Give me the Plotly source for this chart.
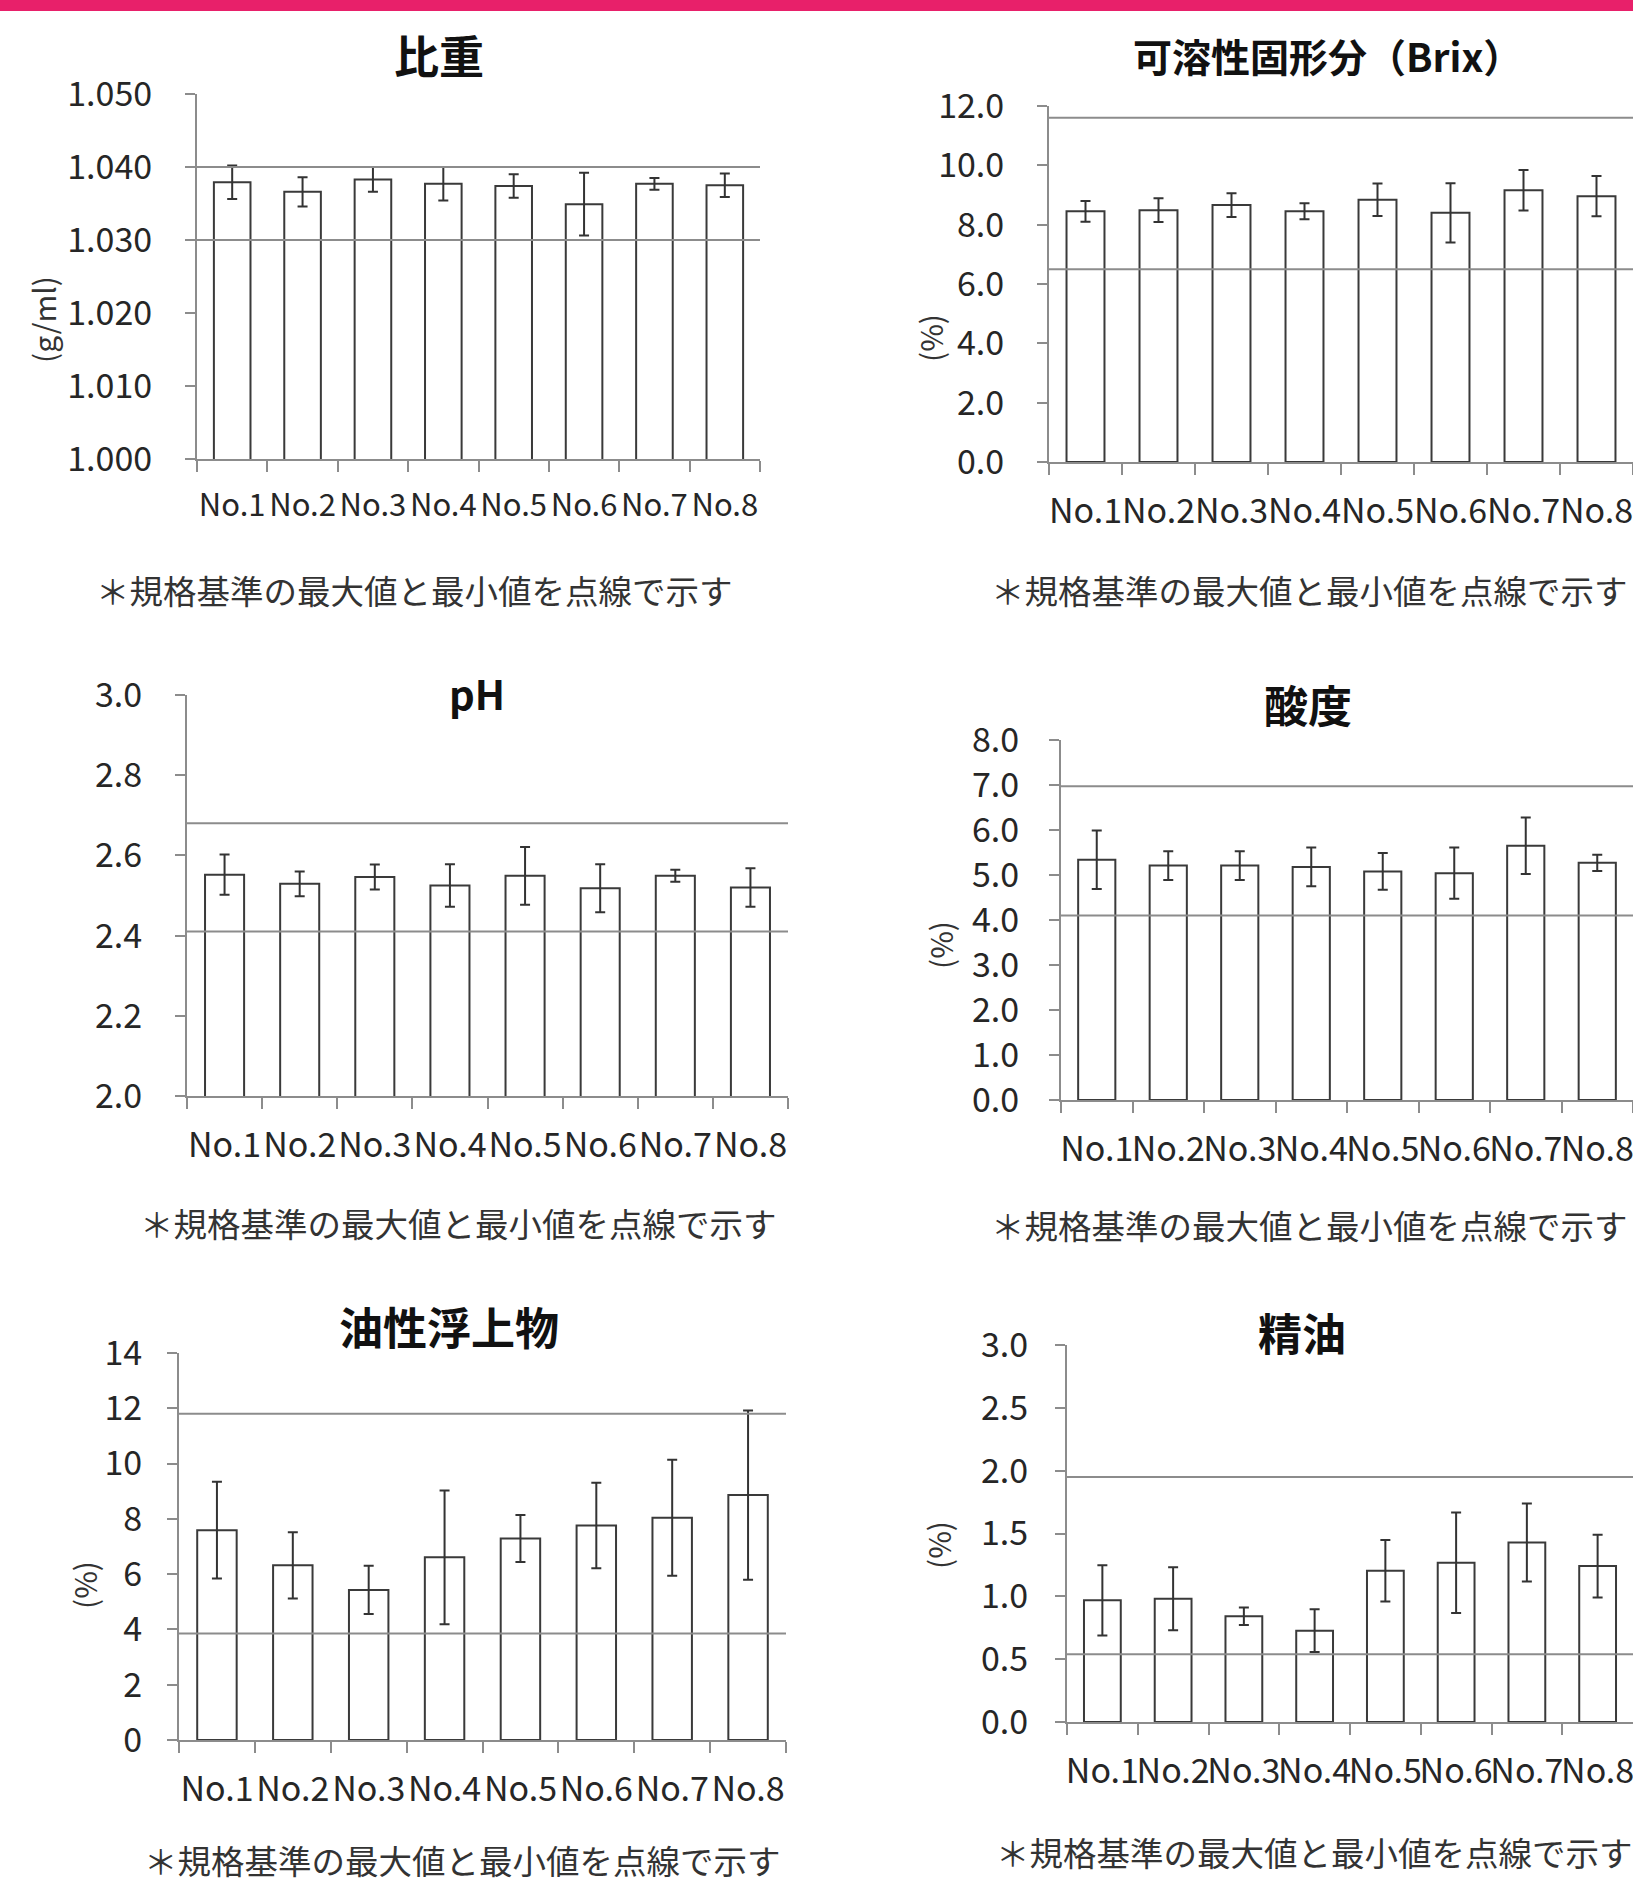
import plotly.graph_objects as go

# Sample labels shared by every panel
categories = ["No.1", "No.2", "No.3", "No.4", "No.5", "No.6", "No.7", "No.8"]

# 比重 (g/ml): mean and standard deviation, spec max/min
sg_mean = [1.0379, 1.0366, 1.0383, 1.0377, 1.0374, 1.0349, 1.0377, 1.0375]
sg_err = [0.0023, 0.0020, 0.0017, 0.0023, 0.0016, 0.0043, 0.0008, 0.0016]
sg_limits = [1.040, 1.030]

# 可溶性固形分 (Brix, %)
brix_mean = [8.45, 8.49, 8.66, 8.45, 8.84, 8.40, 9.16, 8.96]
brix_err = [0.35, 0.40, 0.40, 0.27, 0.55, 1.00, 0.68, 0.68]
brix_limits = [11.6, 6.5]

# pH
ph_mean = [2.552, 2.529, 2.546, 2.525, 2.549, 2.518, 2.549, 2.520]
ph_err = [0.050, 0.031, 0.031, 0.053, 0.072, 0.060, 0.015, 0.048]
ph_limits = [2.68, 2.41]

# 酸度 (%)
acid_mean = [5.34, 5.21, 5.21, 5.18, 5.08, 5.04, 5.65, 5.27]
acid_err = [0.65, 0.32, 0.32, 0.43, 0.41, 0.57, 0.63, 0.18]
acid_limits = [6.97, 4.1]

# 油性浮上物 (%)
oil_mean = [7.59, 6.32, 5.43, 6.61, 7.29, 7.76, 8.04, 8.86]
oil_err = [1.75, 1.20, 0.87, 2.42, 0.85, 1.55, 2.10, 3.06]
oil_limits = [11.8, 3.85]

# 精油 (%)
eo_mean = [0.968, 0.981, 0.841, 0.727, 1.203, 1.267, 1.429, 1.241]
eo_err = [0.28, 0.25, 0.07, 0.17, 0.245, 0.40, 0.31, 0.25]
eo_limits = [1.95, 0.54]

NOTE = "＊規格基準の最大値と最小値を点線で示す"

W, H = 1633, 1886
FONT = "Noto Sans CJK JP"


def px(x):
    return x / W


def py(y):
    return 1 - y / H


# Panel layout in page pixels: plot box (left, right, top, bottom),
# title / y-title / note anchor points, axis settings.
panels = [
    dict(title="比重", tsize=45, mean=sg_mean, err=sg_err, limits=sg_limits,
         yrange=[1.000, 1.050], dtick=0.01, fmt=".3f", ytitle="(g/ml)",
         box=(197, 760, 94, 459), t=(439, 54), yt=(43, 320),
         note=(414, 589), xfont=31, ystand=26),
    dict(title="可溶性固形分（Brix）", tsize=39, mean=brix_mean, err=brix_err,
         limits=brix_limits,
         yrange=[0, 12], dtick=2, fmt=".1f", ytitle="(%)",
         box=(1049, 1633, 106, 462), t=(1327, 55), yt=(930, 338),
         note=(1309, 589), xfont=34, ystand=26),
    dict(title="pH", tsize=40, mean=ph_mean, err=ph_err, limits=ph_limits,
         yrange=[2.0, 3.0], dtick=0.2, fmt=".1f", ytitle=None,
         box=(187, 788, 695, 1096), t=(477, 693), yt=None,
         note=(458, 1222), xfont=34, ystand=26),
    dict(title="酸度", tsize=44, mean=acid_mean, err=acid_err, limits=acid_limits,
         yrange=[0, 8], dtick=1, fmt=".1f", ytitle="(%)",
         box=(1061, 1633, 740, 1100), t=(1308, 704), yt=(940, 945),
         note=(1309, 1224), xfont=34, ystand=23),
    dict(title="油性浮上物", tsize=44, mean=oil_mean, err=oil_err, limits=oil_limits,
         yrange=[0, 14], dtick=2, fmt="d", ytitle="(%)",
         box=(179, 786, 1353, 1740), t=(449, 1326), yt=(84, 1585),
         note=(462, None), xfont=34, ystand=18),
    dict(title="精油", tsize=44, mean=eo_mean, err=eo_err, limits=eo_limits,
         yrange=[0, 3.0], dtick=0.5, fmt=".1f", ytitle="(%)",
         box=(1067, 1633, 1345, 1722), t=(1302, 1332), yt=(938, 1545),
         note=(1314, 1851), xfont=34, ystand=20),
]

fig = go.Figure()
shapes = []
annotations = []
layout_axes = {}

for i, p in enumerate(panels, start=1):
    sfx = "" if i == 1 else str(i)
    xa, ya = "x" + sfx, "y" + sfx
    left, right, top, bottom = p["box"]

    fig.add_trace(go.Bar(
        x=categories, y=p["mean"], xaxis=xa, yaxis=ya,
        width=0.52,
        marker=dict(color="white", line=dict(color="#3a3a3a", width=2)),
        error_y=dict(type="data", array=p["err"], visible=True,
                     color="#333333", thickness=2, width=5),
        showlegend=False, hoverinfo="x+y",
    ))

    layout_axes["xaxis" + sfx] = dict(
        domain=[px(left), px(right)], anchor=ya, automargin=False,
        type="category", range=[-0.5, 7.5],
        showline=True, linecolor="#8c8c8c", linewidth=2,
        ticks="outside", tickson="boundaries", ticklen=11,
        tickcolor="#8c8c8c", tickwidth=2, tickangle=0,
        tickfont=dict(family=FONT, size=p["xfont"], color="#262626"),
        ticklabelstandoff=18,
        showgrid=False, zeroline=False, fixedrange=True,
    )
    layout_axes["yaxis" + sfx] = dict(
        domain=[py(bottom), py(top)], anchor=xa, automargin=False,
        range=p["yrange"], dtick=p["dtick"], tick0=p["yrange"][0],
        tickformat=p["fmt"],
        showline=True, linecolor="#8c8c8c", linewidth=2,
        ticks="outside", ticklen=10, tickcolor="#8c8c8c", tickwidth=2,
        tickfont=dict(family=FONT, size=34, color="#262626"),
        ticklabelstandoff=p["ystand"],
        showgrid=False, zeroline=False, fixedrange=True,
    )

    # Spec maximum / minimum reference lines
    for v in p["limits"]:
        shapes.append(dict(
            type="line", xref=xa + " domain", yref=ya,
            x0=0, x1=1, y0=v, y1=v,
            line=dict(color="#8c8c8c", width=2), layer="above",
        ))

    annotations.append(dict(
        text="<b>%s</b>" % p["title"], x=px(p["t"][0]), y=py(p["t"][1]),
        xref="paper", yref="paper", showarrow=False,
        xanchor="center", yanchor="middle",
        font=dict(family=FONT, size=p["tsize"], color="#111111"),
    ))
    if p["ytitle"]:
        annotations.append(dict(
            text=p["ytitle"], x=px(p["yt"][0]), y=py(p["yt"][1]),
            xref="paper", yref="paper", showarrow=False, textangle=-90,
            xanchor="center", yanchor="middle",
            font=dict(family=FONT, size=30, color="#333333"),
        ))
    nx, ny = p["note"]
    annotations.append(dict(
        text=NOTE, x=px(nx), y=0 if ny is None else py(ny),
        xref="paper", yref="paper", showarrow=False,
        xanchor="center", yanchor="bottom" if ny is None else "middle",
        font=dict(family=FONT, size=33.5, color="#333333"),
    ))

# Header band across the top of the page
shapes.append(dict(
    type="rect", xref="paper", yref="paper",
    x0=0, x1=1, y0=py(11), y1=1,
    fillcolor="#e8206a", line=dict(width=0), layer="above",
))

fig.update_layout(
    width=W, height=H,
    margin=dict(l=0, r=0, t=0, b=0, autoexpand=False),
    paper_bgcolor="white", plot_bgcolor="white",
    shapes=shapes, annotations=annotations,
    font=dict(family=FONT),
    **layout_axes,
)

fig.write_html("out.html")
